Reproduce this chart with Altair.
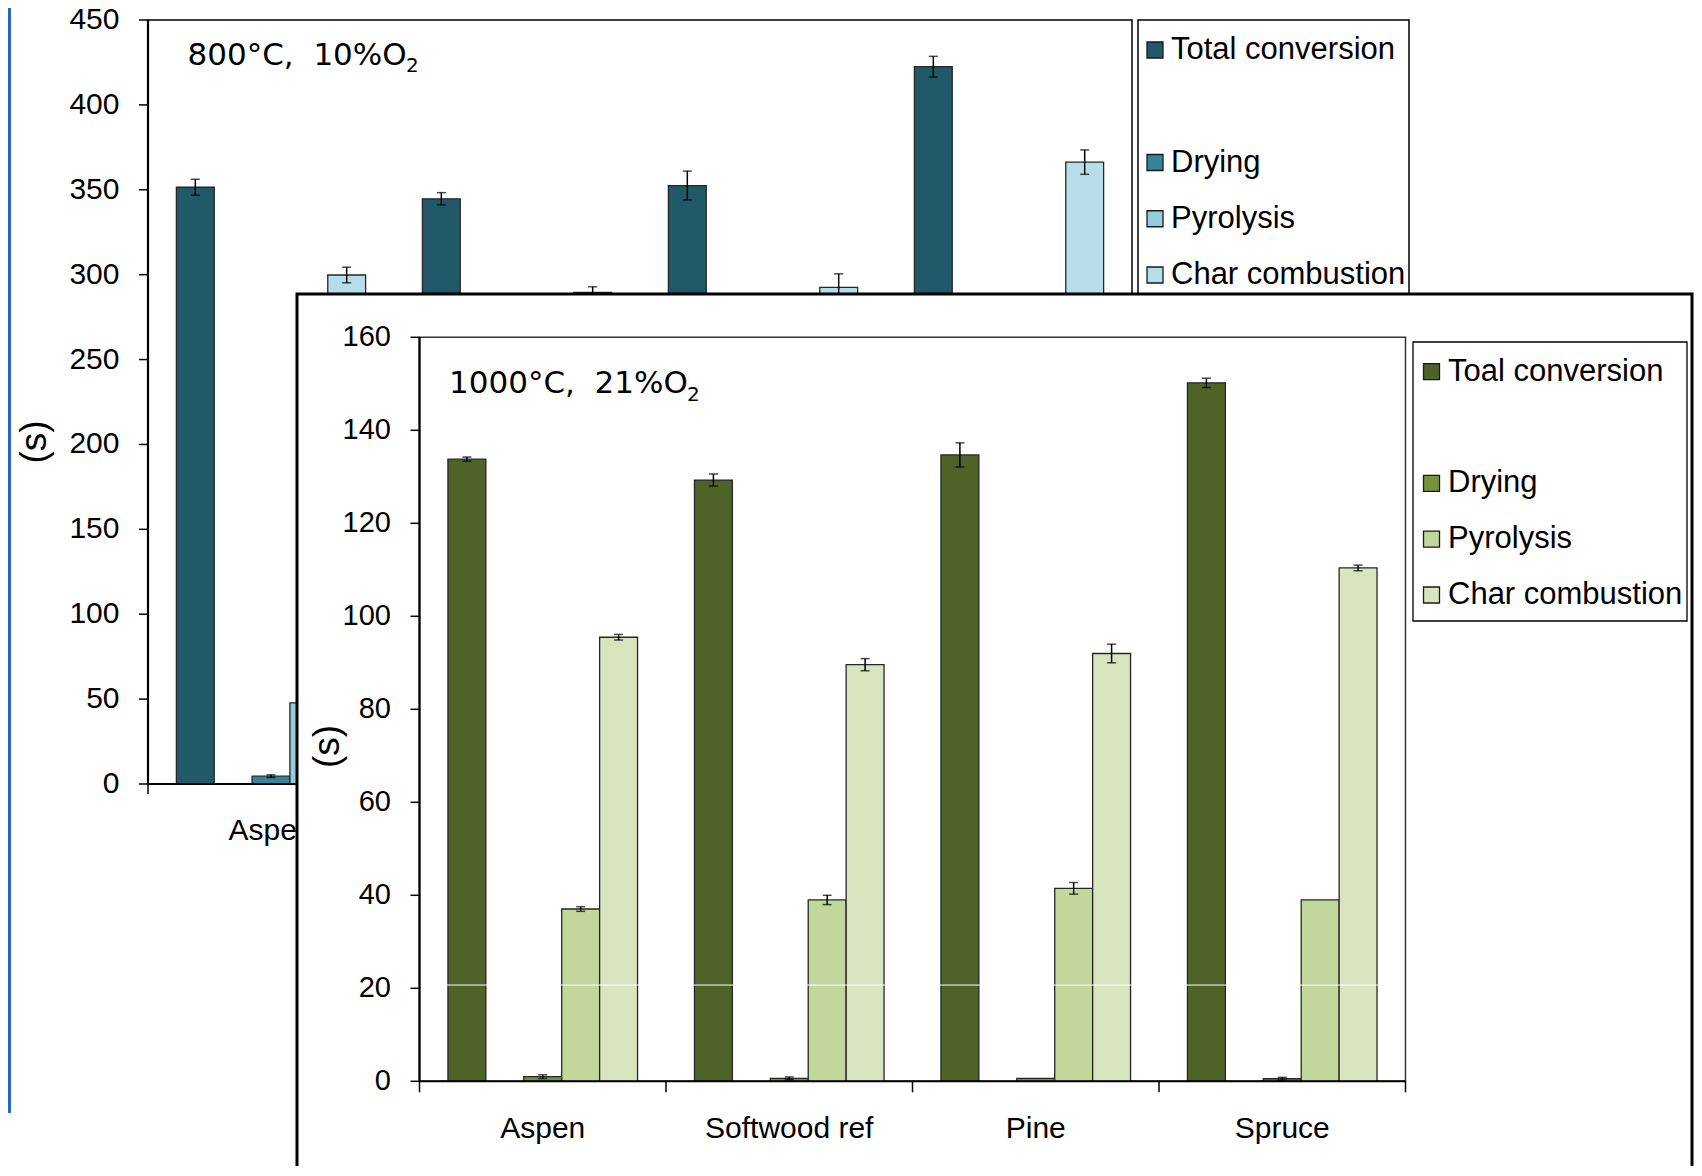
import altair as alt
import pandas as pd

# ------------------------------------------------------------------ data
categories = ["Aspen", "Softwood ref", "Pine", "Spruce"]

# back chart: 800 °C, 10 % O2  (time, s)
series_800 = ["Total conversion", " ", "Drying", "Pyrolysis", "Char combustion"]
colors_800 = ["#215968", "#ffffff", "#31859c", "#93cddd", "#b7dee8"]
total_800 = [351.5, 344.7, 352.5, 422.5]
total_800_err = [4.7, 3.6, 8.5, 6.1]
drying_800 = [4.6, 4.2, 4.4, 4.7]
drying_800_err = [0.8, 0.6, 0.7, 0.6]
pyrolysis_800 = [47.8, 49.5, 51.0, 48.5]
pyrolysis_800_err = [1.5, 1.4, 1.6, 1.5]
char_800 = [299.8, 289.6, 292.5, 366.3]
char_800_err = [4.6, 3.3, 8.0, 7.2]

# front chart: 1000 °C, 21 % O2  (time, s)
series_1000 = ["Toal conversion", "  ", "Drying", "Pyrolysis", "Char combustion"]
colors_1000 = ["#4f6228", "#ffffff", "#77933c", "#c3d69b", "#d7e4bd"]
total_1000 = [133.8, 129.3, 134.7, 150.2]
total_1000_err = [0.45, 1.3, 2.6, 1.0]
drying_1000 = [1.0, 0.65, 0.65, 0.55]
drying_1000_err = [0.4, 0.3, 0.0, 0.3]
pyrolysis_1000 = [37.05, 39.0, 41.5, 39.0]
pyrolysis_1000_err = [0.5, 1.0, 1.25, 0.0]
char_1000 = [95.5, 89.6, 92.0, 110.4]
char_1000_err = [0.6, 1.3, 2.0, 0.6]

y_ticks_800 = list(range(0, 451, 50))
y_ticks_1000 = list(range(0, 161, 20))
label_800 = "800°C,\u00a0 10%O"
label_1000 = "1000°C,\u00a0 21%O"
label_sub = "2"
y_title = "(s)"

# ------------------------------------------------------------------ layout (page px)
OFF = 8
W, H = 1686, 1158
FONT = "Liberation Sans, Arial, sans-serif"
TFONT = "DejaVu Sans, Verdana, sans-serif"

BACK_X = (148, 1132)
BACK_Y = (784, 20)
FRONT_X = (419.5, 1405.5)
FRONT_Y = (1081.3, 337.3)


def p(v):
    return v - OFF


def long_df(series, vals, errs):
    rows = []
    names = [s for s in series if s.strip()]
    for name, vv, ee in zip(names, vals, errs):
        for c, v, e in zip(categories, vv, ee):
            rows.append(dict(cat=c, series=name, value=v, lo=v - e, hi=v + e, err=e))
    return pd.DataFrame(rows)


df_800 = long_df(series_800, [total_800, drying_800, pyrolysis_800, char_800],
                 [total_800_err, drying_800_err, pyrolysis_800_err, char_800_err])
df_1000 = long_df(series_1000, [total_1000, drying_1000, pyrolysis_1000, char_1000],
                  [total_1000_err, drying_1000_err, pyrolysis_1000_err, char_1000_err])
dummy = pd.DataFrame({"k": [0]})
cat_df = pd.DataFrame({"cat": categories})
last_cat_df = pd.DataFrame({"cat": [categories[-1]]})


def box(x1, x2, y1, y2, fill="white", stroke="black", sw=1.5, fo=1.0):
    return alt.Chart(dummy).mark_rect(fill=fill, fillOpacity=fo, stroke=stroke, strokeWidth=sw).encode(
        x=alt.value(p(x1)), x2=alt.value(p(x2)), y=alt.value(p(y1)), y2=alt.value(p(y2)))


def text_at(txt, x, y, font, size, align="left", angle=0, baseline="alphabetic"):
    return alt.Chart(dummy).mark_text(align=align, baseline=baseline, font=font, fontSize=size,
                                      color="black", text=txt, angle=angle).encode(
        x=alt.value(p(x)), y=alt.value(p(y)))


def bar_chart(df, series, colors, xr, yr, ydom, yticks, label, label_xy, sub_xy, title_xy,
              tick_fs, xlab_base, xtick_len, front):
    xs = alt.Scale(domain=categories, range=[p(xr[0]), p(xr[1])], paddingInner=0, paddingOuter=0)
    xos = alt.Scale(domain=series, paddingInner=0, paddingOuter=0.75)
    ys = alt.Scale(domain=ydom, range=[p(yr[0]), p(yr[1])], nice=False, zero=True)
    cs = alt.Scale(domain=series, range=colors)
    ax = p(xr[0])
    zero_y = p(yr[0])

    frame = box(xr[0], xr[1], yr[1], yr[0], fill="white", fo=0.0,
                stroke="#333333" if front else "black", sw=1.5)

    bars = alt.Chart(df).mark_bar(stroke="#262626", strokeWidth=1.3).encode(
        x=alt.X("cat:N", scale=xs, axis=None, sort=categories),
        xOffset=alt.XOffset("series:N", scale=xos),
        y=alt.Y("value:Q", scale=ys, axis=None),
        color=alt.Color("series:N", scale=cs, legend=None),
    )
    edf = df[df["err"] > 0]
    err = alt.Chart(edf).mark_rule(color="black", strokeWidth=1.5).encode(
        x=alt.X("cat:N", scale=xs, axis=None),
        xOffset=alt.XOffset("series:N", scale=xos),
        y=alt.Y("lo:Q", scale=ys, axis=None),
        y2="hi:Q",
    )
    cap_hi = alt.Chart(edf).mark_tick(color="black", thickness=1.5, size=9).encode(
        x=alt.X("cat:N", scale=xs, axis=None),
        xOffset=alt.XOffset("series:N", scale=xos),
        y=alt.Y("hi:Q", scale=ys, axis=None),
    )
    cap_lo = alt.Chart(edf).mark_tick(color="black", thickness=1.5, size=9).encode(
        x=alt.X("cat:N", scale=xs, axis=None),
        xOffset=alt.XOffset("series:N", scale=xos),
        y=alt.Y("lo:Q", scale=ys, axis=None),
    )

    # ---- axes drawn from the scales
    yt_df = pd.DataFrame({"t": yticks})
    y_dom = alt.Chart(dummy).mark_rule(color="black", strokeWidth=2.2).encode(
        x=alt.value(ax), y=alt.YDatum(ydom[1], scale=ys, axis=None), y2=alt.Y2Datum(ydom[0]))
    y_tk = alt.Chart(yt_df).mark_rule(color="black", strokeWidth=1.5).encode(
        y=alt.Y("t:Q", scale=ys, axis=None), x=alt.value(ax - 9), x2=alt.value(ax))
    y_lb = alt.Chart(yt_df).mark_text(align="right", baseline="middle", font=FONT,
                                      fontSize=tick_fs, color="black").encode(
        y=alt.Y("t:Q", scale=ys, axis=None), x=alt.value(ax - 28.5), text="t:Q")
    x_dom = alt.Chart(dummy).mark_rule(color="black", strokeWidth=2).encode(
        y=alt.YDatum(ydom[0], scale=ys, axis=None), x=alt.value(p(xr[0])), x2=alt.value(p(xr[1])))
    x_tk = alt.Chart(cat_df).mark_rule(color="black", strokeWidth=1.5).encode(
        x=alt.X("cat:N", scale=xs, axis=None, bandPosition=0),
        y=alt.value(zero_y), y2=alt.value(zero_y + xtick_len))
    x_tk_last = alt.Chart(last_cat_df).mark_rule(color="black", strokeWidth=1.5).encode(
        x=alt.X("cat:N", scale=xs, axis=None, bandPosition=1),
        y=alt.value(zero_y), y2=alt.value(zero_y + xtick_len))
    x_lb = alt.Chart(cat_df).mark_text(align="center", baseline="alphabetic", font=FONT,
                                       fontSize=30, color="black").encode(
        x=alt.X("cat:N", scale=xs, axis=None, bandPosition=0.5),
        y=alt.value(p(xlab_base)), text="cat:N")
    title = text_at(y_title, title_xy[0], title_xy[1], FONT, 37, align="center", angle=270,
                    baseline="middle")

    txt = text_at(label, label_xy[0], label_xy[1], TFONT, 31)
    sub = text_at(label_sub, sub_xy[0], sub_xy[1], TFONT, 20)

    layers = [frame, bars]
    if front:
        white_line = alt.Chart(dummy).mark_rule(color="white", strokeWidth=1).encode(
            y=alt.YDatum(20.7, scale=ys, axis=None), x=alt.value(ax + 2), x2=alt.value(p(xr[1]) - 2))
        layers.append(white_line)
    layers += [err, cap_hi, cap_lo, x_dom, y_dom, y_tk, y_lb, x_tk, x_tk_last, x_lb, title, txt, sub]
    return alt.layer(*layers)


def legend(series, colors, y_first, y_last, swatch_x, text_x):
    shown = pd.DataFrame({"series": [s for s in series if s.strip()]})
    ys = alt.Scale(type="point", domain=series, range=[p(y_first), p(y_last)], padding=0)
    cs = alt.Scale(domain=series, range=colors)
    sw = alt.Chart(shown).mark_square(size=256, stroke="#1a1a1a", strokeWidth=1.3, opacity=1).encode(
        x=alt.value(p(swatch_x)),
        y=alt.Y("series:N", scale=ys, axis=None),
        color=alt.Color("series:N", scale=cs, legend=None),
    )
    tx = alt.Chart(shown).mark_text(align="left", baseline="middle", font=FONT, fontSize=31,
                                    color="black").encode(
        x=alt.value(p(text_x)),
        y=alt.Y("series:N", scale=ys, axis=None),
        text="series:N",
    )
    return alt.layer(sw, tx)


blue_edge = alt.Chart(dummy).mark_rule(color="#2866c2", strokeWidth=3).encode(
    x=alt.value(1.5), y=alt.value(0), y2=alt.value(1105))

back = bar_chart(df_800, series_800, colors_800, BACK_X, BACK_Y, [0, 450], y_ticks_800,
                 label_800, (187.5, 65), (406, 72), (34.5, 442), 30, 840, 10, False)
back_leg_box = box(1138, 1409, 20, 320)
back_leg = legend(series_800, colors_800, 50, 275, 1155, 1171)

front_panel = box(297, 1692, 294, 1300, fill="white", stroke="black", sw=3)
front = bar_chart(df_1000, series_1000, colors_1000, FRONT_X, FRONT_Y, [0, 160], y_ticks_1000,
                  label_1000, (449, 393.3), (687, 401), (328, 746.5), 29, 1138, 11, True)
front_leg_box = box(1413, 1687, 342, 621, sw=1.3)
front_leg = legend(series_1000, colors_1000, 371.7, 595, 1431.5, 1448)

chart = alt.layer(
    blue_edge, back, back_leg_box, back_leg, front_panel, front, front_leg_box, front_leg
).resolve_scale(
    x="independent", y="independent", color="independent", xOffset="independent"
).properties(
    width=W, height=H, autosize=alt.AutoSizeParams(type="none"), padding=0, background="white"
).configure_view(stroke=None)

chart.save("out.html", embed_options={"renderer": "svg", "actions": False})
